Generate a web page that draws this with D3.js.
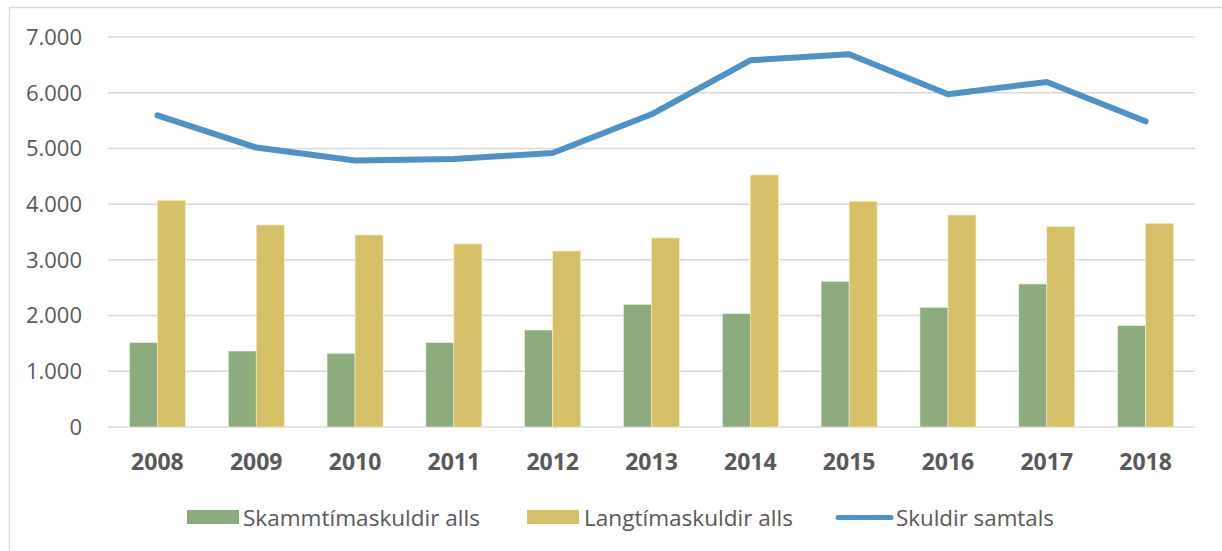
<!DOCTYPE html>
<html>
<head>
<meta charset="utf-8">
<script src="https://cdn.jsdelivr.net/npm/d3@7"></script>
<style>
  body { margin: 0; background: #fff; }
  svg text { font-family: "Open Sans", "Noto Sans", sans-serif; fill: #595959; }
</style>
</head>
<body>
<div class="chart"></div>
<script>
var width = 1222;
var height = 551;

// data
var years = ['2008','2009','2010','2011','2012','2013','2014','2015','2016','2017','2018'];
var shortTerm = [1515, 1364, 1323, 1515, 1741, 2202, 2035, 2615, 2149, 2567, 1820];
var longTerm  = [4069, 3626, 3447, 3285, 3159, 3393, 4523, 4051, 3805, 3597, 3656];
var total     = [5595, 5015, 4782, 4811, 4918, 5613, 6582, 6690, 5972, 6193, 5487];
var yTicks = [0, 1000, 2000, 3000, 4000, 5000, 6000, 7000];
var seriesNames = ['Skammtímaskuldir alls', 'Langtímaskuldir alls', 'Skuldir samtals'];

var green = '#8DAC7E';
var yellow = '#D5C068';
var blue = '#4F92C5';

var plot = {left: 108, right: 1195, top: 37, bottom: 427};

var svg = d3.select('.chart')
			.append('svg')
			.attr('width', width)
			.attr('height', height);

// outer chart border (left + top visible)
svg.append('rect')
   .attr('x', 9.5)
   .attr('y', 7.5)
   .attr('width', width + 20)
   .attr('height', height + 20)
   .attr('fill', 'none')
   .attr('stroke', '#d9d9d9')
   .attr('stroke-width', 1.5);

var x = d3.scaleBand()
		  .domain(years)
		  .range([plot.left, plot.right])
		  .paddingInner(0.433)
		  .paddingOuter(0.2165);

var xInner = d3.scaleBand()
			   .domain(['s', 'l'])
			   .range([0, x.bandwidth()]);

var y = d3.scaleLinear()
		  .domain([0, 7000])
		  .range([plot.bottom, plot.top]);

// gridlines
svg.append('g')
   .selectAll('line')
   .data(yTicks)
   .enter()
   .append('line')
   .attr('x1', plot.left)
   .attr('x2', plot.right)
   .attr('y1', d => y(d))
   .attr('y2', d => y(d))
   .attr('stroke', '#d9d9d9')
   .attr('stroke-width', 1.5);

// y axis labels
var fmt = d => d === 0 ? '0' : d3.format(',')(d).replace(/,/g, '.');
svg.append('g')
   .selectAll('text')
   .data(yTicks)
   .enter()
   .append('text')
   .attr('x', 82)
   .attr('y', d => y(d))
   .attr('dy', '0.36em')
   .attr('text-anchor', 'end')
   .attr('font-size', 22)
   .text(fmt);

// x axis labels
svg.append('g')
   .selectAll('text')
   .data(years)
   .enter()
   .append('text')
   .attr('x', d => x(d) + x.bandwidth() / 2)
   .attr('y', 470)
   .attr('text-anchor', 'middle')
   .attr('font-size', 23)
   .attr('font-weight', 'bold')
   .text(d => d);

// bars
svg.append('g')
   .selectAll('rect')
   .data(shortTerm)
   .enter()
   .append('rect')
   .attr('x', (d, i) => x(years[i]) + xInner('s'))
   .attr('y', d => y(d))
   .attr('width', xInner.bandwidth())
   .attr('height', d => y(0) - y(d))
   .attr('fill', green)
   .attr('stroke', '#eef2ea')
   .attr('stroke-width', 0.6);

svg.append('g')
   .selectAll('rect')
   .data(longTerm)
   .enter()
   .append('rect')
   .attr('x', (d, i) => x(years[i]) + xInner('l'))
   .attr('y', d => y(d))
   .attr('width', xInner.bandwidth())
   .attr('height', d => y(0) - y(d))
   .attr('fill', yellow)
   .attr('stroke', '#f4eecb')
   .attr('stroke-width', 0.6);

// total line
var line = d3.line()
			 .x((d, i) => x(years[i]) + x.bandwidth() / 2)
			 .y(d => y(d));

svg.append('path')
   .datum(total)
   .attr('d', line)
   .attr('fill', 'none')
   .attr('stroke', blue)
   .attr('stroke-width', 6)
   .attr('stroke-linejoin', 'round')
   .attr('stroke-linecap', 'round');

// legend
var legend = svg.append('g');
var legendItems = [
	{name: seriesNames[0], type: 'rect', color: green, x: 187, tx: 243, w: 237},
	{name: seriesNames[1], type: 'rect', color: yellow, x: 527, tx: 584, w: 209},
	{name: seriesNames[2], type: 'line', color: blue, x: 838, tx: 896, w: 158}
];

legendItems.forEach(item => {
	if (item.type === 'rect') {
		legend.append('rect')
			  .attr('x', item.x)
			  .attr('y', 510)
			  .attr('width', 52)
			  .attr('height', 14)
			  .attr('fill', item.color);
	} else {
		legend.append('line')
			  .attr('x1', item.x)
			  .attr('x2', item.x + 53)
			  .attr('y1', 517.5)
			  .attr('y2', 517.5)
			  .attr('stroke', item.color)
			  .attr('stroke-width', 5)
			  .attr('stroke-linecap', 'round');
	}
	legend.append('text')
		  .attr('x', item.tx)
		  .attr('y', 526)
		  .attr('font-size', 21)
		  .attr('textLength', item.w)
		  .attr('lengthAdjust', 'spacingAndGlyphs')
		  .text(item.name);
});
</script>
</body>
</html>
